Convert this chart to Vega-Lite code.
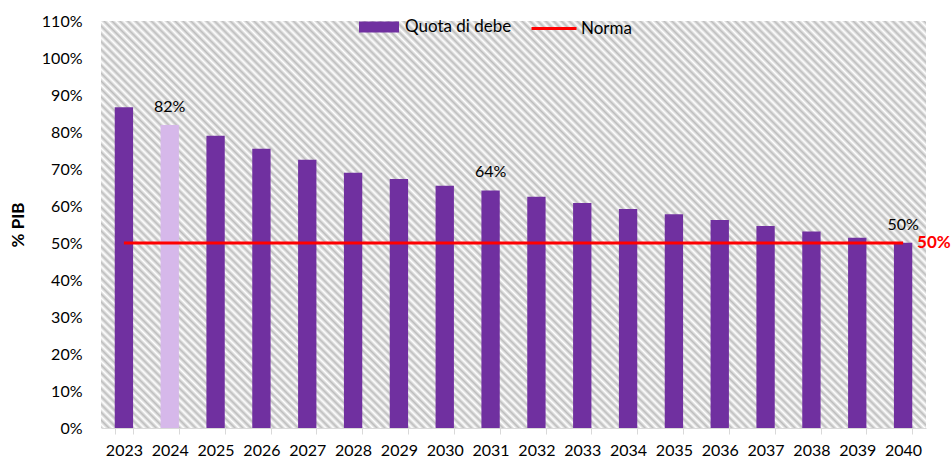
{
  "$schema": "https://vega.github.io/schema/vega-lite/v6.json",
  "width": 825,
  "height": 407,
  "autosize": {"type": "none"},
  "padding": {"left": 101, "top": 21, "right": 25, "bottom": 32},
  "background": "white",
  "view": {
    "stroke": null,
    "fill": {
      "gradient": "linear",
      "x1": 0, "y1": 1, "x2": 1.2011, "y2": 0.4075,
      "stops": [
        {"offset":0,"color":"#bdbdbd"},{"offset":0.0032,"color":"#fff"},{"offset":0.0064,"color":"#bdbdbd"},{"offset":0.0096,"color":"#fff"},{"offset":0.0128,"color":"#bdbdbd"},{"offset":0.016,"color":"#fff"},{"offset":0.0192,"color":"#bdbdbd"},{"offset":0.0224,"color":"#fff"},{"offset":0.0256,"color":"#bdbdbd"},{"offset":0.0288,"color":"#fff"},
        {"offset":0.032,"color":"#bdbdbd"},{"offset":0.0352,"color":"#fff"},{"offset":0.0384,"color":"#bdbdbd"},{"offset":0.0416,"color":"#fff"},{"offset":0.0448,"color":"#bdbdbd"},{"offset":0.048,"color":"#fff"},{"offset":0.0512,"color":"#bdbdbd"},{"offset":0.0544,"color":"#fff"},{"offset":0.0576,"color":"#bdbdbd"},{"offset":0.0608,"color":"#fff"},
        {"offset":0.064,"color":"#bdbdbd"},{"offset":0.0672,"color":"#fff"},{"offset":0.0704,"color":"#bdbdbd"},{"offset":0.0736,"color":"#fff"},{"offset":0.0768,"color":"#bdbdbd"},{"offset":0.08,"color":"#fff"},{"offset":0.0832,"color":"#bdbdbd"},{"offset":0.0864,"color":"#fff"},{"offset":0.0896,"color":"#bdbdbd"},{"offset":0.0928,"color":"#fff"},
        {"offset":0.096,"color":"#bdbdbd"},{"offset":0.0992,"color":"#fff"},{"offset":0.1024,"color":"#bdbdbd"},{"offset":0.1056,"color":"#fff"},{"offset":0.1088,"color":"#bdbdbd"},{"offset":0.112,"color":"#fff"},{"offset":0.1152,"color":"#bdbdbd"},{"offset":0.1184,"color":"#fff"},{"offset":0.1216,"color":"#bdbdbd"},{"offset":0.1248,"color":"#fff"},
        {"offset":0.128,"color":"#bdbdbd"},{"offset":0.1312,"color":"#fff"},{"offset":0.1344,"color":"#bdbdbd"},{"offset":0.1376,"color":"#fff"},{"offset":0.1408,"color":"#bdbdbd"},{"offset":0.144,"color":"#fff"},{"offset":0.1472,"color":"#bdbdbd"},{"offset":0.1504,"color":"#fff"},{"offset":0.1536,"color":"#bdbdbd"},{"offset":0.1568,"color":"#fff"},
        {"offset":0.16,"color":"#bdbdbd"},{"offset":0.1632,"color":"#fff"},{"offset":0.1664,"color":"#bdbdbd"},{"offset":0.1696,"color":"#fff"},{"offset":0.1728,"color":"#bdbdbd"},{"offset":0.176,"color":"#fff"},{"offset":0.1792,"color":"#bdbdbd"},{"offset":0.1824,"color":"#fff"},{"offset":0.1856,"color":"#bdbdbd"},{"offset":0.1888,"color":"#fff"},
        {"offset":0.192,"color":"#bdbdbd"},{"offset":0.1952,"color":"#fff"},{"offset":0.1984,"color":"#bdbdbd"},{"offset":0.2016,"color":"#fff"},{"offset":0.2048,"color":"#bdbdbd"},{"offset":0.208,"color":"#fff"},{"offset":0.2112,"color":"#bdbdbd"},{"offset":0.2144,"color":"#fff"},{"offset":0.2176,"color":"#bdbdbd"},{"offset":0.2208,"color":"#fff"},
        {"offset":0.224,"color":"#bdbdbd"},{"offset":0.2272,"color":"#fff"},{"offset":0.2304,"color":"#bdbdbd"},{"offset":0.2336,"color":"#fff"},{"offset":0.2368,"color":"#bdbdbd"},{"offset":0.24,"color":"#fff"},{"offset":0.2432,"color":"#bdbdbd"},{"offset":0.2464,"color":"#fff"},{"offset":0.2496,"color":"#bdbdbd"},{"offset":0.2528,"color":"#fff"},
        {"offset":0.256,"color":"#bdbdbd"},{"offset":0.2592,"color":"#fff"},{"offset":0.2624,"color":"#bdbdbd"},{"offset":0.2656,"color":"#fff"},{"offset":0.2688,"color":"#bdbdbd"},{"offset":0.272,"color":"#fff"},{"offset":0.2752,"color":"#bdbdbd"},{"offset":0.2784,"color":"#fff"},{"offset":0.2816,"color":"#bdbdbd"},{"offset":0.2848,"color":"#fff"},
        {"offset":0.288,"color":"#bdbdbd"},{"offset":0.2912,"color":"#fff"},{"offset":0.2944,"color":"#bdbdbd"},{"offset":0.2976,"color":"#fff"},{"offset":0.3008,"color":"#bdbdbd"},{"offset":0.304,"color":"#fff"},{"offset":0.3072,"color":"#bdbdbd"},{"offset":0.3104,"color":"#fff"},{"offset":0.3136,"color":"#bdbdbd"},{"offset":0.3168,"color":"#fff"},
        {"offset":0.32,"color":"#bdbdbd"},{"offset":0.3232,"color":"#fff"},{"offset":0.3264,"color":"#bdbdbd"},{"offset":0.3296,"color":"#fff"},{"offset":0.3328,"color":"#bdbdbd"},{"offset":0.336,"color":"#fff"},{"offset":0.3392,"color":"#bdbdbd"},{"offset":0.3424,"color":"#fff"},{"offset":0.3456,"color":"#bdbdbd"},{"offset":0.3488,"color":"#fff"},
        {"offset":0.352,"color":"#bdbdbd"},{"offset":0.3552,"color":"#fff"},{"offset":0.3584,"color":"#bdbdbd"},{"offset":0.3616,"color":"#fff"},{"offset":0.3648,"color":"#bdbdbd"},{"offset":0.368,"color":"#fff"},{"offset":0.3712,"color":"#bdbdbd"},{"offset":0.3744,"color":"#fff"},{"offset":0.3776,"color":"#bdbdbd"},{"offset":0.3808,"color":"#fff"},
        {"offset":0.384,"color":"#bdbdbd"},{"offset":0.3872,"color":"#fff"},{"offset":0.3904,"color":"#bdbdbd"},{"offset":0.3936,"color":"#fff"},{"offset":0.3968,"color":"#bdbdbd"},{"offset":0.4,"color":"#fff"},{"offset":0.4032,"color":"#bdbdbd"},{"offset":0.4064,"color":"#fff"},{"offset":0.4096,"color":"#bdbdbd"},{"offset":0.4128,"color":"#fff"},
        {"offset":0.416,"color":"#bdbdbd"},{"offset":0.4192,"color":"#fff"},{"offset":0.4224,"color":"#bdbdbd"},{"offset":0.4256,"color":"#fff"},{"offset":0.4288,"color":"#bdbdbd"},{"offset":0.432,"color":"#fff"},{"offset":0.4352,"color":"#bdbdbd"},{"offset":0.4384,"color":"#fff"},{"offset":0.4416,"color":"#bdbdbd"},{"offset":0.4448,"color":"#fff"},
        {"offset":0.448,"color":"#bdbdbd"},{"offset":0.4512,"color":"#fff"},{"offset":0.4544,"color":"#bdbdbd"},{"offset":0.4576,"color":"#fff"},{"offset":0.4608,"color":"#bdbdbd"},{"offset":0.464,"color":"#fff"},{"offset":0.4672,"color":"#bdbdbd"},{"offset":0.4704,"color":"#fff"},{"offset":0.4736,"color":"#bdbdbd"},{"offset":0.4768,"color":"#fff"},
        {"offset":0.48,"color":"#bdbdbd"},{"offset":0.4832,"color":"#fff"},{"offset":0.4864,"color":"#bdbdbd"},{"offset":0.4896,"color":"#fff"},{"offset":0.4928,"color":"#bdbdbd"},{"offset":0.496,"color":"#fff"},{"offset":0.4992,"color":"#bdbdbd"},{"offset":0.5024,"color":"#fff"},{"offset":0.5056,"color":"#bdbdbd"},{"offset":0.5088,"color":"#fff"},
        {"offset":0.512,"color":"#bdbdbd"},{"offset":0.5152,"color":"#fff"},{"offset":0.5184,"color":"#bdbdbd"},{"offset":0.5216,"color":"#fff"},{"offset":0.5248,"color":"#bdbdbd"},{"offset":0.528,"color":"#fff"},{"offset":0.5312,"color":"#bdbdbd"},{"offset":0.5344,"color":"#fff"},{"offset":0.5376,"color":"#bdbdbd"},{"offset":0.5408,"color":"#fff"},
        {"offset":0.544,"color":"#bdbdbd"},{"offset":0.5472,"color":"#fff"},{"offset":0.5504,"color":"#bdbdbd"},{"offset":0.5536,"color":"#fff"},{"offset":0.5568,"color":"#bdbdbd"},{"offset":0.56,"color":"#fff"},{"offset":0.5632,"color":"#bdbdbd"},{"offset":0.5664,"color":"#fff"},{"offset":0.5696,"color":"#bdbdbd"},{"offset":0.5728,"color":"#fff"},
        {"offset":0.576,"color":"#bdbdbd"},{"offset":0.5792,"color":"#fff"},{"offset":0.5824,"color":"#bdbdbd"},{"offset":0.5856,"color":"#fff"},{"offset":0.5888,"color":"#bdbdbd"},{"offset":0.592,"color":"#fff"},{"offset":0.5952,"color":"#bdbdbd"},{"offset":0.5984,"color":"#fff"},{"offset":0.6016,"color":"#bdbdbd"},{"offset":0.6048,"color":"#fff"},
        {"offset":0.608,"color":"#bdbdbd"},{"offset":0.6112,"color":"#fff"},{"offset":0.6144,"color":"#bdbdbd"},{"offset":0.6176,"color":"#fff"},{"offset":0.6208,"color":"#bdbdbd"},{"offset":0.624,"color":"#fff"},{"offset":0.6272,"color":"#bdbdbd"},{"offset":0.6304,"color":"#fff"},{"offset":0.6336,"color":"#bdbdbd"},{"offset":0.6368,"color":"#fff"},
        {"offset":0.64,"color":"#bdbdbd"},{"offset":0.6432,"color":"#fff"},{"offset":0.6464,"color":"#bdbdbd"},{"offset":0.6496,"color":"#fff"},{"offset":0.6528,"color":"#bdbdbd"},{"offset":0.656,"color":"#fff"},{"offset":0.6592,"color":"#bdbdbd"},{"offset":0.6624,"color":"#fff"},{"offset":0.6656,"color":"#bdbdbd"},{"offset":0.6688,"color":"#fff"},
        {"offset":0.672,"color":"#bdbdbd"},{"offset":0.6752,"color":"#fff"},{"offset":0.6784,"color":"#bdbdbd"},{"offset":0.6816,"color":"#fff"},{"offset":0.6848,"color":"#bdbdbd"},{"offset":0.688,"color":"#fff"},{"offset":0.6912,"color":"#bdbdbd"},{"offset":0.6944,"color":"#fff"},{"offset":0.6976,"color":"#bdbdbd"},{"offset":0.7008,"color":"#fff"},
        {"offset":0.704,"color":"#bdbdbd"},{"offset":0.7072,"color":"#fff"},{"offset":0.7104,"color":"#bdbdbd"},{"offset":0.7136,"color":"#fff"},{"offset":0.7168,"color":"#bdbdbd"},{"offset":0.72,"color":"#fff"},{"offset":0.7232,"color":"#bdbdbd"},{"offset":0.7264,"color":"#fff"},{"offset":0.7296,"color":"#bdbdbd"},{"offset":0.7328,"color":"#fff"},
        {"offset":0.736,"color":"#bdbdbd"},{"offset":0.7392,"color":"#fff"},{"offset":0.7424,"color":"#bdbdbd"},{"offset":0.7456,"color":"#fff"},{"offset":0.7488,"color":"#bdbdbd"},{"offset":0.752,"color":"#fff"},{"offset":0.7552,"color":"#bdbdbd"},{"offset":0.7584,"color":"#fff"},{"offset":0.7616,"color":"#bdbdbd"},{"offset":0.7648,"color":"#fff"},
        {"offset":0.768,"color":"#bdbdbd"},{"offset":0.7712,"color":"#fff"},{"offset":0.7744,"color":"#bdbdbd"},{"offset":0.7776,"color":"#fff"},{"offset":0.7808,"color":"#bdbdbd"},{"offset":0.784,"color":"#fff"},{"offset":0.7872,"color":"#bdbdbd"},{"offset":0.7904,"color":"#fff"},{"offset":0.7936,"color":"#bdbdbd"},{"offset":0.7968,"color":"#fff"},
        {"offset":0.8,"color":"#bdbdbd"},{"offset":0.8032,"color":"#fff"},{"offset":0.8064,"color":"#bdbdbd"},{"offset":0.8096,"color":"#fff"},{"offset":0.8128,"color":"#bdbdbd"},{"offset":0.816,"color":"#fff"},{"offset":0.8192,"color":"#bdbdbd"},{"offset":0.8224,"color":"#fff"},{"offset":0.8256,"color":"#bdbdbd"},{"offset":0.8288,"color":"#fff"},
        {"offset":0.832,"color":"#bdbdbd"},{"offset":0.8352,"color":"#fff"},{"offset":0.8384,"color":"#bdbdbd"},{"offset":0.8416,"color":"#fff"},{"offset":0.8448,"color":"#bdbdbd"},{"offset":0.848,"color":"#fff"},{"offset":0.8512,"color":"#bdbdbd"},{"offset":0.8544,"color":"#fff"},{"offset":0.8576,"color":"#bdbdbd"},{"offset":0.8608,"color":"#fff"},
        {"offset":0.864,"color":"#bdbdbd"},{"offset":0.8672,"color":"#fff"},{"offset":0.8704,"color":"#bdbdbd"},{"offset":0.8736,"color":"#fff"},{"offset":0.8768,"color":"#bdbdbd"},{"offset":0.88,"color":"#fff"},{"offset":0.8832,"color":"#bdbdbd"},{"offset":0.8864,"color":"#fff"},{"offset":0.8896,"color":"#bdbdbd"},{"offset":0.8928,"color":"#fff"},
        {"offset":0.896,"color":"#bdbdbd"},{"offset":0.8992,"color":"#fff"},{"offset":0.9024,"color":"#bdbdbd"},{"offset":0.9056,"color":"#fff"},{"offset":0.9088,"color":"#bdbdbd"},{"offset":0.912,"color":"#fff"},{"offset":0.9152,"color":"#bdbdbd"},{"offset":0.9184,"color":"#fff"},{"offset":0.9216,"color":"#bdbdbd"},{"offset":0.9248,"color":"#fff"},
        {"offset":0.928,"color":"#bdbdbd"},{"offset":0.9312,"color":"#fff"},{"offset":0.9344,"color":"#bdbdbd"},{"offset":0.9376,"color":"#fff"},{"offset":0.9408,"color":"#bdbdbd"},{"offset":0.944,"color":"#fff"},{"offset":0.9472,"color":"#bdbdbd"},{"offset":0.9504,"color":"#fff"},{"offset":0.9536,"color":"#bdbdbd"},{"offset":0.9568,"color":"#fff"},
        {"offset":0.96,"color":"#bdbdbd"},{"offset":0.9632,"color":"#fff"},{"offset":0.9664,"color":"#bdbdbd"},{"offset":0.9696,"color":"#fff"},{"offset":0.9728,"color":"#bdbdbd"},{"offset":0.976,"color":"#fff"},{"offset":0.9792,"color":"#bdbdbd"},{"offset":0.9824,"color":"#fff"},{"offset":0.9856,"color":"#bdbdbd"},{"offset":0.9888,"color":"#fff"},
        {"offset":0.992,"color":"#bdbdbd"},{"offset":0.9952,"color":"#fff"},{"offset":0.9984,"color":"#bdbdbd"},{"offset":1,"color":"#fff"}
      ]
    }
  },
  "config": {
    "font": "Lato",
    "axis": {"labelFont": "Lato", "labelFontSize": 16, "labelColor": "#000000", "titleFont": "Lato", "titleColor": "#000000"},
    "axisY": {
      "values": [0, 0.1, 0.2, 0.3, 0.4, 0.5, 0.6, 0.7, 0.8, 0.9, 1.0, 1.1],
      "format": ".0%",
      "labelOverlap": false,
      "labelBound": false,
      "labelFlush": false,
      "domain": false,
      "ticks": false,
      "tickSize": 0,
      "grid": false,
      "labelPadding": 19,
      "titleFontWeight": "bold",
      "titleFontSize": 17,
      "titlePadding": 14
    },
    "legend": {"labelFont": "Lato", "labelFontSize": 17, "labelColor": "#000000", "labelOffset": 6}
  },
  "data": {
    "values": [
      {"anno": "2023", "debito": 0.867, "norma": 0.5, "etichetta": ""},
      {"anno": "2024", "debito": 0.819, "norma": 0.5, "etichetta": "82%"},
      {"anno": "2025", "debito": 0.790, "norma": 0.5, "etichetta": ""},
      {"anno": "2026", "debito": 0.755, "norma": 0.5, "etichetta": ""},
      {"anno": "2027", "debito": 0.725, "norma": 0.5, "etichetta": ""},
      {"anno": "2028", "debito": 0.690, "norma": 0.5, "etichetta": ""},
      {"anno": "2029", "debito": 0.673, "norma": 0.5, "etichetta": ""},
      {"anno": "2030", "debito": 0.655, "norma": 0.5, "etichetta": ""},
      {"anno": "2031", "debito": 0.642, "norma": 0.5, "etichetta": "64%"},
      {"anno": "2032", "debito": 0.625, "norma": 0.5, "etichetta": ""},
      {"anno": "2033", "debito": 0.608, "norma": 0.5, "etichetta": ""},
      {"anno": "2034", "debito": 0.592, "norma": 0.5, "etichetta": ""},
      {"anno": "2035", "debito": 0.578, "norma": 0.5, "etichetta": ""},
      {"anno": "2036", "debito": 0.562, "norma": 0.5, "etichetta": ""},
      {"anno": "2037", "debito": 0.546, "norma": 0.5, "etichetta": ""},
      {"anno": "2038", "debito": 0.531, "norma": 0.5, "etichetta": ""},
      {"anno": "2039", "debito": 0.514, "norma": 0.5, "etichetta": ""},
      {"anno": "2040", "debito": 0.501, "norma": 0.5, "etichetta": "50%"}
    ]
  },
  "encoding": {
    "x": {
      "field": "anno",
      "type": "ordinal",
      "scale": {"paddingInner": 0.6, "paddingOuter": 0.3},
      "axis": {
        "title": null,
        "labelAngle": 0,
        "tickBand": "extent",
        "tickColor": "#D9D9D9",
        "tickSize": 6,
        "domainColor": "#D9D9D9",
        "labelPadding": 8,
        "grid": false
      }
    }
  },
  "layer": [
    {
      "mark": {"type": "bar"},
      "encoding": {
        "y": {
          "field": "debito",
          "type": "quantitative",
          "title": "% PIB",
          "scale": {"domain": [0, 1.1], "nice": false}
        },
        "fill": {
          "datum": "Quota di debe",
          "type": "nominal",
          "scale": {"range": ["#7030A0"]},
          "legend": {
            "title": null,
            "orient": "none",
            "legendX": 258,
            "legendY": -14,
            "symbolType": "M-1,-0.28H1V0.28H-1Z",
            "symbolSize": 1600,
            "symbolStrokeWidth": 0
          },
          "condition": {"test": "datum.anno === '2024'", "value": "#D6B8EA"}
        }
      }
    },
    {
      "mark": {"type": "line", "strokeWidth": 3},
      "encoding": {
        "y": {"field": "norma", "type": "quantitative", "title": "% PIB"},
        "stroke": {
          "datum": "Norma",
          "type": "nominal",
          "scale": {"range": ["#FF0000"]},
          "legend": {
            "title": null,
            "orient": "none",
            "legendX": 429,
            "legendY": -16.5,
            "labelOffset": 3,
            "symbolType": "stroke",
            "symbolSize": 2025,
            "symbolStrokeWidth": 3
          }
        }
      }
    },
    {
      "transform": [{"filter": "datum.etichetta !== ''"}],
      "mark": {"type": "text", "baseline": "bottom", "dy": -10, "fontSize": 16, "color": "#000000"},
      "encoding": {
        "y": {"field": "debito", "type": "quantitative", "title": "% PIB"},
        "text": {"field": "etichetta"}
      }
    },
    {
      "transform": [{"filter": "datum.anno === '2040'"}],
      "mark": {"type": "text", "align": "left", "baseline": "middle", "dx": 14, "fontSize": 17, "fontWeight": "bold", "color": "#FF0000"},
      "encoding": {
        "y": {"field": "norma", "type": "quantitative", "title": "% PIB"},
        "text": {"field": "norma", "format": ".0%"}
      }
    }
  ]
}
